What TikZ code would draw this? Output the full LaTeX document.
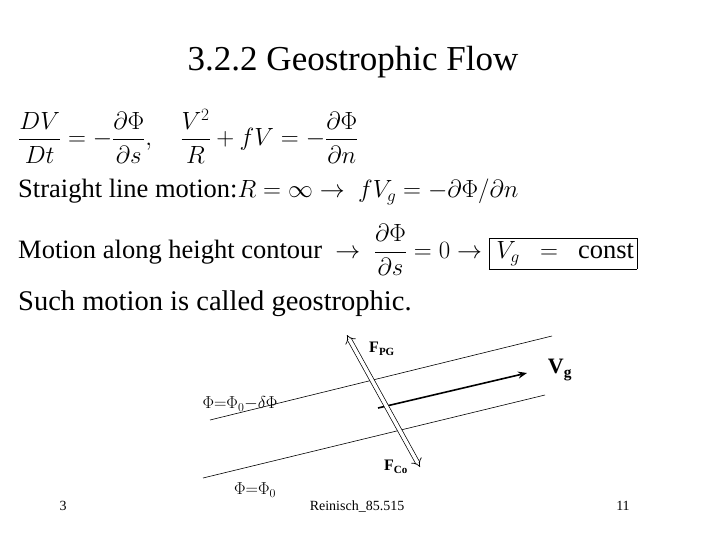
\documentclass[tikz,border=0pt]{standalone}
\usepackage{fontspec}
\setmainfont{Liberation Serif}
\usepackage{amsmath}
\usetikzlibrary{arrows.meta}
\begin{document}
\begin{tikzpicture}[x=1pt,y=-1pt,
  big/.style={font=\fontsize{26.5}{30}\selectfont, inner sep=0pt, anchor=west},
  lbl/.style={font=\bfseries\fontsize{16}{18}\selectfont, inner sep=0pt},
  cont/.style={line width=0.6pt},
  foot/.style={font=\fontsize{14}{16}\selectfont, inner sep=0pt, anchor=base}]
\useasboundingbox (0,0) rectangle (720,540);
\node[font=\fontsize{35}{40}\selectfont, inner sep=0pt] (title) at (353,62) {3.2.2 Geostrophic Flow};
\node[big,font=\fontsize{24}{28}\selectfont] (eq1) at (18,136) {$\dfrac{DV}{Dt}=-\dfrac{\partial\Phi}{\partial s},\quad \dfrac{V^{2}}{R}+fV=-\dfrac{\partial\Phi}{\partial n}$};
\node[big] (eq2) at (18,192) {Straight line motion:$R=\infty\rightarrow\ fV_{g}=-\partial\Phi/\partial n$};
\node[big] (eq3) at (18,250) {Motion along height contour \ $\rightarrow\ \dfrac{\partial\Phi}{\partial s}=0\rightarrow\fbox{$\,V_{g}\ \ =\ \ \text{const}$}$};
\node[big,font=\fontsize{28.5}{32}\selectfont] (eq4) at (18,304) {Such motion is called geostrophic.};
\coordinate (u1) at (210,420); \coordinate (u2) at (552,336);
\coordinate (l1) at (203,478); \coordinate (l2) at (545,395);
\draw[cont] (u1) -- (u2);
\draw[cont] (l1) -- (l2);
\coordinate (v1) at (378,408); \coordinate (v2) at (527,373);
\draw[line width=1.6pt,-{Stealth[length=9pt,width=7pt]}] (v1) -- (v2);
\coordinate (a1) at (347,335); \coordinate (a2) at (420,467);
\draw[double,double distance=3.5pt,line width=0.7pt,{Implies}-{Implies}] (a1) -- (a2);
\node[lbl] (fpg) at (382,349) {F\textsubscript{\fontsize{11}{12}\selectfont PG}};
\node[lbl, font=\bfseries\fontsize{22}{24}\selectfont] (vg) at (560,370) {V\textsubscript{g}};
\node[lbl] (fco) at (396,467) {F\textsubscript{\fontsize{11}{12}\selectfont Co}};
\node[inner sep=0pt,font=\fontsize{17}{19}\selectfont] (phi1) at (240,404) {$\Phi{=}\Phi_0{-}\delta\Phi$};
\node[inner sep=0pt,font=\fontsize{17}{19}\selectfont] (phi0) at (255,490) {$\Phi{=}\Phi_0$};
\node[foot] (p3) at (63,510) {3};
\node[foot] (ref) at (357,510) {Reinisch\_85.515};
\node[foot] (p11) at (623,510) {11};
\end{tikzpicture}
\end{document}
